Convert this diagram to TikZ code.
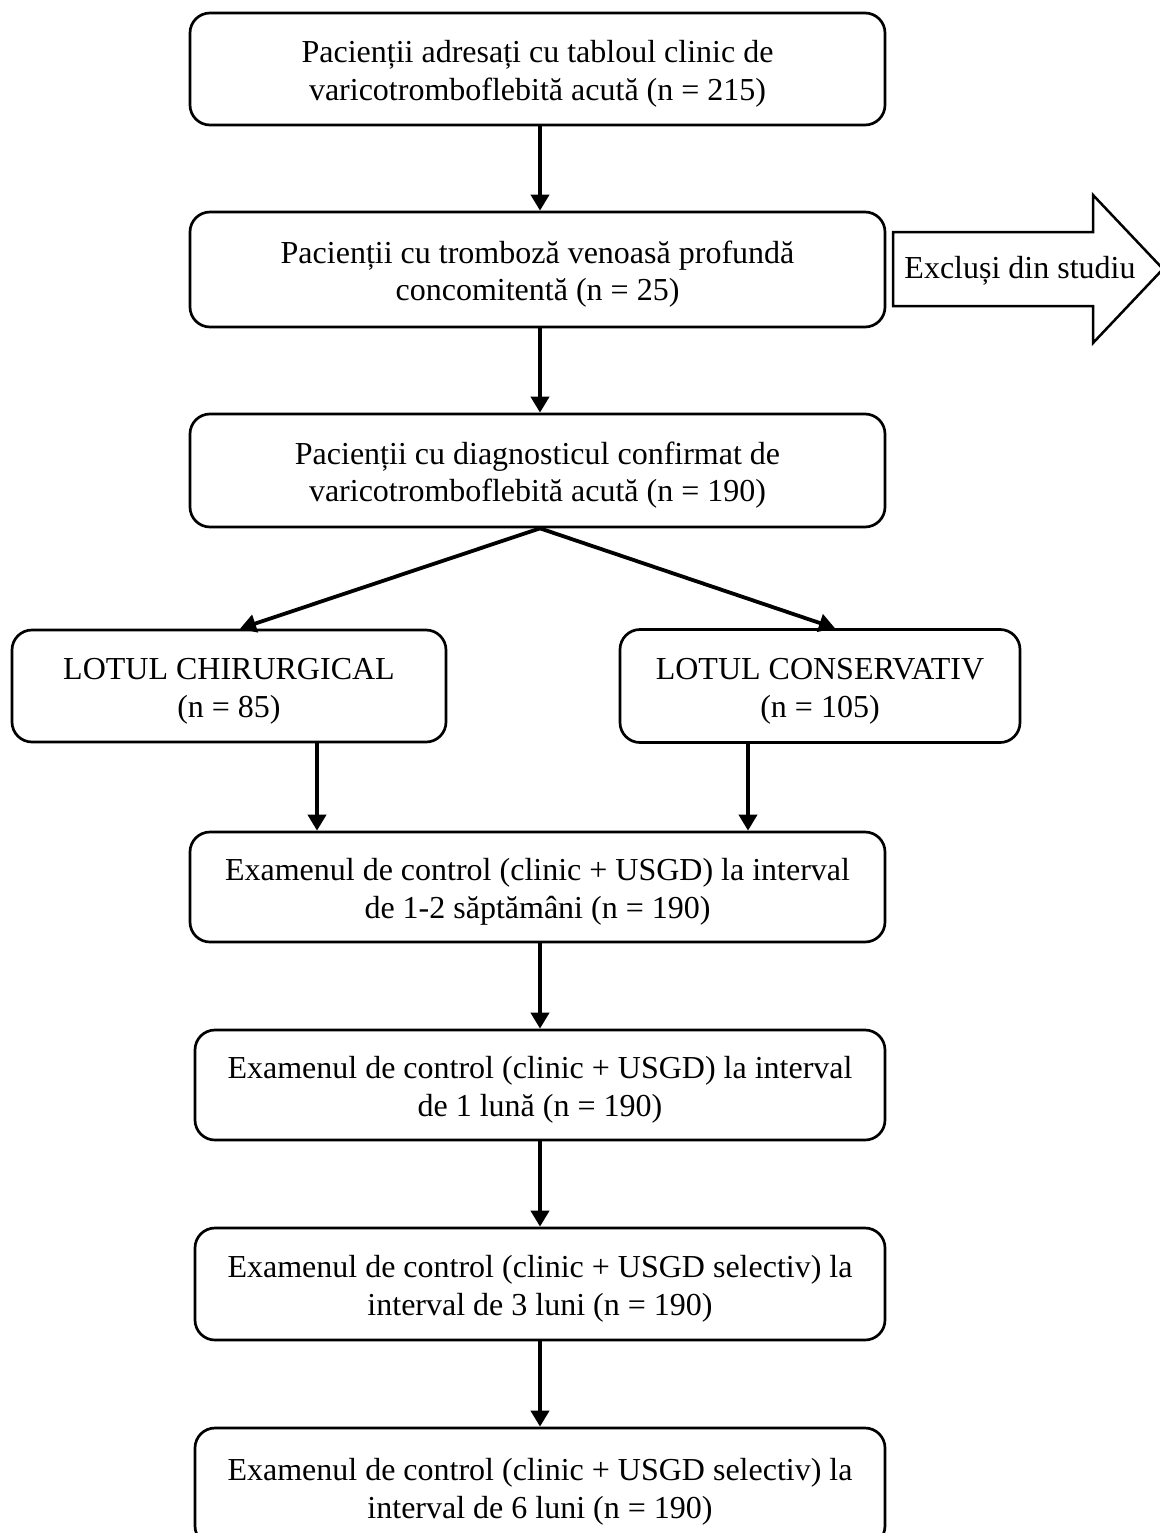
\documentclass[tikz,border=0pt]{standalone}
\usepackage{fontspec}
\setmainfont{Liberation Serif}
\usetikzlibrary{arrows.meta,calc}
\newcommand{\boxtext}[1]{\raisebox{-5pt}[\height][\depth]{\begin{tabular}{@{}c@{}}#1\end{tabular}}}
\begin{document}
\begin{tikzpicture}[x=1pt,y=1pt,
  box/.style={draw=black,line width=2.7pt,rounded corners=20pt,align=center,
    inner sep=0pt,font=\fontsize{32}{37.5}\selectfont},
  arr/.style={line width=3.8pt,-{Triangle[length=16pt,width=18pt]}},
  bigarrow/.style={draw=black,line width=2.5pt,fill=white,line join=miter}]
\useasboundingbox (0,0) rectangle (1159,-1533);
\coordinate (ax) at (540,0);
\node[box,minimum width=695pt,minimum height=112pt] (b1) at (537.5,-69) {\boxtext{Pacienții adresați cu tabloul clinic de\\varicotromboflebită acută (n = 215)}};
\node[box,minimum width=695pt,minimum height=115pt] (b2) at (537.5,-269.5) {\boxtext{Pacienții cu tromboză venoasă profundă\\concomitentă (n = 25)}};
\node[box,minimum width=695pt,minimum height=113pt] (b3) at (537.5,-470.5) {\boxtext{Pacienții cu diagnosticul confirmat de\\varicotromboflebită acută (n = 190)}};
\node[box,minimum width=434pt,minimum height=112pt] (b4) at (229,-686) {\boxtext{LOTUL CHIRURGICAL\\(n = 85)}};
\node[box,minimum width=400pt,minimum height=113pt] (b5) at (820,-686) {\boxtext{LOTUL CONSERVATIV\\(n = 105)}};
\node[box,minimum width=695pt,minimum height=110pt] (b6) at (537.5,-887) {\boxtext{Examenul de control (clinic + USGD) la interval\\de 1-2 săptămâni (n = 190)}};
\node[box,minimum width=690pt,minimum height=110pt] (b7) at (540,-1085) {\boxtext{Examenul de control (clinic + USGD) la interval\\de 1 lună (n = 190)}};
\node[box,minimum width=690pt,minimum height=112pt] (b8) at (540,-1284) {\boxtext{Examenul de control (clinic + USGD selectiv) la\\interval de 3 luni (n = 190)}};
\node[box,minimum width=690pt,minimum height=118pt] (b9) at (540,-1487) {\boxtext{Examenul de control (clinic + USGD selectiv) la\\interval de 6 luni (n = 190)}};
% exclusion arrow
\draw[bigarrow] (893,-232) -- (1093,-232) -- (1093,-195) -- (1163,-269) -- (1093,-343) -- (1093,-306) -- (893,-306) -- cycle;
\node[font=\fontsize{32}{37.5}\selectfont] (ex) at (1020,-271) {Excluși din studiu};
% connectors
\draw[arr] (b1.south -| ax) -- (b2.north -| ax);
\draw[arr] (b2.south -| ax) -- (b3.north -| ax);
\coordinate (s3) at (b3.south -| ax);
\draw[arr] (s3) -- ([xshift=11pt]b4.north);
\draw[arr] (s3) -- ([xshift=15pt]b5.north);
\coordinate (l4) at ([xshift=88pt]b4.south);
\coordinate (l5) at ([xshift=-72pt]b5.south);
\draw[arr] (l4) -- (l4 |- b6.north);
\draw[arr] (l5) -- (l5 |- b6.north);
\draw[arr] (b6.south -| ax) -- (b7.north -| ax);
\draw[arr] (b7.south -| ax) -- (b8.north -| ax);
\draw[arr] (b8.south -| ax) -- (b9.north -| ax);
\end{tikzpicture}
\end{document}
